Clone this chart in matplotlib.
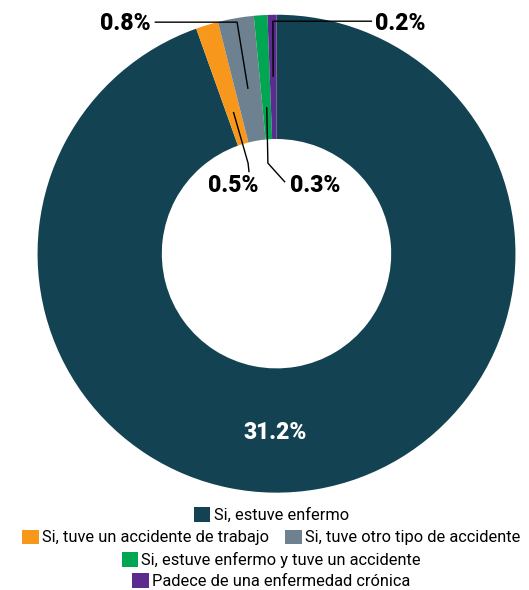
import numpy as np
import matplotlib.pyplot as plt
from matplotlib.patches import Patch

plt.rcParams['font.family'] = ['Roboto', 'DejaVu Sans']

categories = [
    'Si, estuve enfermo',
    'Si, tuve un accidente de trabajo',
    'Si, tuve otro tipo de accidente',
    'Si, estuve enfermo y tuve un accidente',
    'Padece de una enfermedad crónica',
]
values = [31.2, 0.5, 0.8, 0.3, 0.2]
colors = ['#134352', '#F7981D', '#6D8190', '#00A651', '#5B2C8E']
legend_rows = [[0], [1, 2], [3], [4]]

fig = plt.figure(figsize=(5.29, 5.9), dpi=100)
ax = fig.add_axes([0.0709, 0.165, 0.9036, 0.810])

wedges, _ = ax.pie(values, colors=colors, startangle=90, counterclock=False,
                   radius=1.0, wedgeprops=dict(width=0.52, linewidth=0))
ax.set_xlim(-1, 1)
ax.set_ylim(-1, 1)
ax.set_aspect('equal')
ax.axis('off')


def wedge_point(w, r):
    ang = np.deg2rad((w.theta1 + w.theta2) / 2)
    return r * np.cos(ang), r * np.sin(ang)


lbl_font = dict(fontsize=16.5, fontweight='black', color='black')

# leader lines: (wedge index, tip radius, elbow, end, text pos)
leaders = [
    (2, 0.70, (-0.165, 0.969), (-0.51, 0.969), (-0.634, 0.965)),
    (4, 0.74, (-0.015, 0.973), (0.40, 0.973), (0.519, 0.965)),
    (1, 0.62, (-0.119, 0.379), (-0.115, 0.341), (-0.182, 0.285)),
    (3, 0.615, (-0.036, 0.379), (0.036, 0.299), (0.160, 0.285)),
]
for idx, r, elbow, end, tpos in leaders:
    tx, ty = wedge_point(wedges[idx], r)
    ax.plot([tx, elbow[0], end[0]], [ty, elbow[1], end[1]], color='black', lw=1.0,
            solid_capstyle='butt', clip_on=False)
    ax.text(tpos[0], tpos[1], f'{values[idx]}%', ha='center', va='center', **lbl_font)

ax.text(-0.006, -0.747, f'{values[0]}%', ha='center', va='center',
        fontsize=16.5, fontweight='black', color='white')

row_y = [0.127, 0.089, 0.051, 0.015]
for row, y in zip(legend_rows, row_y):
    handles = [Patch(facecolor=colors[i], edgecolor='none', label=categories[i]) for i in row]
    fig.legend(handles=handles, loc='center', bbox_to_anchor=(0.513, y),
               ncol=len(row), frameon=False, fontsize=11.8,
               handlelength=1.0, handleheight=1.0, handletextpad=0.2,
               columnspacing=1.0, borderpad=0, borderaxespad=0)

fig.savefig('out.png', dpi=100)
